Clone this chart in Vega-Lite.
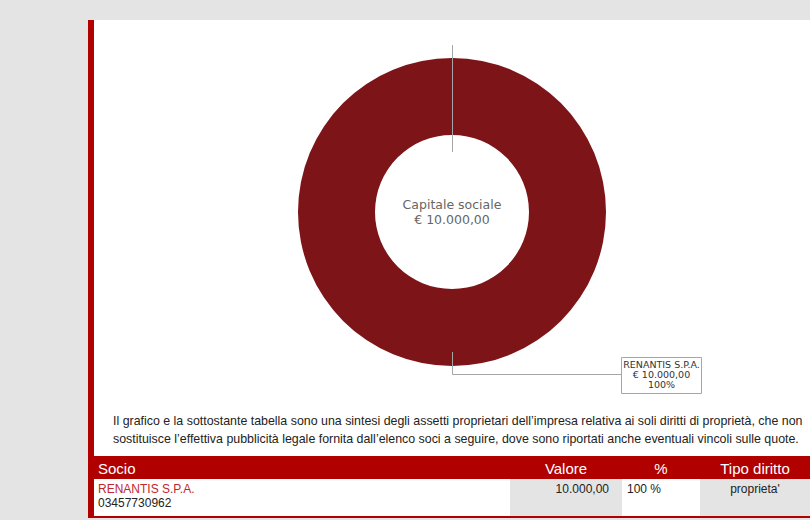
{
  "$schema": "https://vega.github.io/schema/vega-lite/v6.json",
  "background": "#e4e4e4",
  "padding": {"left": 88, "top": 20, "right": 0, "bottom": 2},
  "config": {
    "view": {"stroke": null},
    "concat": {"spacing": 0},
    "locale": {"number": {"decimal": ",", "thousands": ".", "grouping": [3], "currency": ["€ ", ""]}}
  },
  "datasets": {
    "soci": [
      {"socio": "RENANTIS S.P.A.", "codice_fiscale": "03457730962", "valore": 10000, "quota": 1, "tipo_diritto": "proprieta'"}
    ],
    "nota": [
      {"riga": 1, "testo": "Il grafico e la sottostante tabella sono una sintesi degli assetti proprietari dell’impresa relativa ai soli diritti di proprietà, che non"},
      {"riga": 2, "testo": "sostituisce l’effettiva pubblicità legale fornita dall’elenco soci a seguire, dove sono riportati anche eventuali vincoli sulle quote."}
    ],
    "intestazione": [
      {"colonna": "Socio"}, {"colonna": "Valore"}, {"colonna": "%"}, {"colonna": "Tipo diritto"}
    ]
  },
  "spacing": 0,
  "hconcat": [
    {
      "width": 6, "height": 498,
      "view": {"fill": "#b00000"},
      "data": {"values": [{}]},
      "mark": {"type": "rect", "fill": "#b00000"},
      "encoding": {}
    },
    {
      "spacing": 0,
      "vconcat": [
        {
          "width": 716, "height": 384,
          "view": {"fill": "white"},
          "data": {"name": "soci"},
          "layer": [
            {
              "mark": {"type": "arc", "outerRadius": 154, "innerRadius": 77},
              "encoding": {
                "theta": {"field": "valore", "type": "quantitative"},
                "color": {"field": "socio", "type": "nominal", "scale": {"range": ["#7d1418"]}, "legend": null}
              }
            },
            {
              "mark": {"type": "point", "shape": "M 0.5 -167 V -60 M 0.5 140 V 162.5 H 169.5 M 169.5 145.5 H 249.5 V 181.5 H 169.5 Z", "size": 4, "filled": false, "fill": null, "stroke": "#a6a6a6", "strokeWidth": 1, "opacity": 1},
              "encoding": {}
            },
            {
              "mark": {"type": "text", "font": "DejaVu Sans", "fontSize": 12.5, "color": "#666666", "dy": -7},
              "encoding": {"text": {"value": "Capitale sociale"}}
            },
            {
              "mark": {"type": "text", "font": "DejaVu Sans", "fontSize": 12.5, "color": "#666666", "dy": 8},
              "encoding": {"text": {"aggregate": "sum", "field": "valore", "type": "quantitative", "format": "$,.2f"}}
            },
            {
              "mark": {"type": "text", "font": "DejaVu Sans", "fontSize": 9.5, "color": "#333333", "dx": 209.5, "dy": 153},
              "encoding": {"text": {"field": "socio", "type": "nominal"}}
            },
            {
              "mark": {"type": "text", "font": "DejaVu Sans", "fontSize": 9.5, "color": "#333333", "dx": 209.5, "dy": 163},
              "encoding": {"text": {"field": "valore", "type": "quantitative", "format": "$,.2f"}}
            },
            {
              "mark": {"type": "text", "font": "DejaVu Sans", "fontSize": 9.5, "color": "#333333", "dx": 209.5, "dy": 173},
              "encoding": {"text": {"field": "quota", "type": "quantitative", "format": ".0%"}}
            }
          ]
        },
        {
          "width": 716, "height": 52,
          "view": {"fill": "white"},
          "data": {"name": "nota"},
          "mark": {"type": "text", "align": "left", "dx": -339, "font": "Liberation Sans", "fontSize": 12.4, "color": "#222222"},
          "encoding": {
            "y": {"field": "riga", "type": "ordinal", "scale": {"type": "point", "padding": 1.233}, "axis": null},
            "text": {"field": "testo", "type": "nominal"}
          }
        },
        {
          "spacing": 0,
          "bounds": "flush",
          "hconcat": [
            {
              "width": 416, "height": 23,
              "view": {"fill": "#b00000"},
              "data": {"name": "intestazione"},
              "transform": [{"filter": "datum.colonna == 'Socio'"}],
              "mark": {"type": "text", "align": "left", "dx": -204, "dy": 1, "color": "white", "font": "Liberation Sans", "fontSize": 15},
              "encoding": {"text": {"field": "colonna", "type": "nominal"}}
            },
            {
              "width": 112, "height": 23,
              "view": {"fill": "#b00000"},
              "data": {"name": "intestazione"},
              "transform": [{"filter": "datum.colonna == 'Valore'"}],
              "mark": {"type": "text", "dy": 1, "color": "white", "font": "Liberation Sans", "fontSize": 15},
              "encoding": {"text": {"field": "colonna", "type": "nominal"}}
            },
            {
              "width": 78, "height": 23,
              "view": {"fill": "#b00000"},
              "data": {"name": "intestazione"},
              "transform": [{"filter": "datum.colonna == '%'"}],
              "mark": {"type": "text", "dy": 1, "color": "white", "font": "Liberation Sans", "fontSize": 15},
              "encoding": {"text": {"field": "colonna", "type": "nominal"}}
            },
            {
              "width": 110, "height": 23,
              "view": {"fill": "#b00000"},
              "data": {"name": "intestazione"},
              "transform": [{"filter": "datum.colonna == 'Tipo diritto'"}],
              "mark": {"type": "text", "dy": 1, "color": "white", "font": "Liberation Sans", "fontSize": 15},
              "encoding": {"text": {"field": "colonna", "type": "nominal"}}
            }
          ]
        },
        {
          "spacing": 0,
          "bounds": "flush",
          "hconcat": [
            {
              "width": 416, "height": 37,
              "view": {"fill": "white"},
              "data": {"name": "soci"},
              "layer": [
                {
                  "mark": {"type": "text", "align": "left", "dx": -204, "dy": -8.5, "color": "#c1272d", "font": "Liberation Sans", "fontSize": 12},
                  "encoding": {"text": {"field": "socio", "type": "nominal"}}
                },
                {
                  "mark": {"type": "text", "align": "left", "dx": -204, "dy": 5.5, "color": "#222222", "font": "Liberation Sans", "fontSize": 12},
                  "encoding": {"text": {"field": "codice_fiscale", "type": "nominal"}}
                }
              ]
            },
            {
              "width": 112, "height": 37,
              "view": {"fill": "#e4e4e4"},
              "data": {"name": "soci"},
              "mark": {"type": "text", "align": "right", "dx": 43, "dy": -8.5, "color": "#222222", "font": "Liberation Sans", "fontSize": 12},
              "encoding": {"text": {"field": "valore", "type": "quantitative", "format": ",.2f"}}
            },
            {
              "width": 78, "height": 37,
              "view": {"fill": "white"},
              "data": {"name": "soci"},
              "transform": [{"calculate": "format(datum.quota * 100, 'd') + ' %'", "as": "quota_testo"}],
              "mark": {"type": "text", "align": "left", "dx": -34, "dy": -8.5, "color": "#222222", "font": "Liberation Sans", "fontSize": 12},
              "encoding": {"text": {"field": "quota_testo", "type": "nominal"}}
            },
            {
              "width": 110, "height": 37,
              "view": {"fill": "#e4e4e4"},
              "data": {"name": "soci"},
              "mark": {"type": "text", "dy": -9, "color": "#222222", "font": "Liberation Sans", "fontSize": 12},
              "encoding": {"text": {"field": "tipo_diritto", "type": "nominal"}}
            }
          ]
        },
        {
          "width": 716, "height": 2,
          "view": {"fill": "#b00000"},
          "data": {"values": [{}]},
          "mark": {"type": "rect", "fill": "#b00000"},
          "encoding": {}
        }
      ]
    }
  ]
}
